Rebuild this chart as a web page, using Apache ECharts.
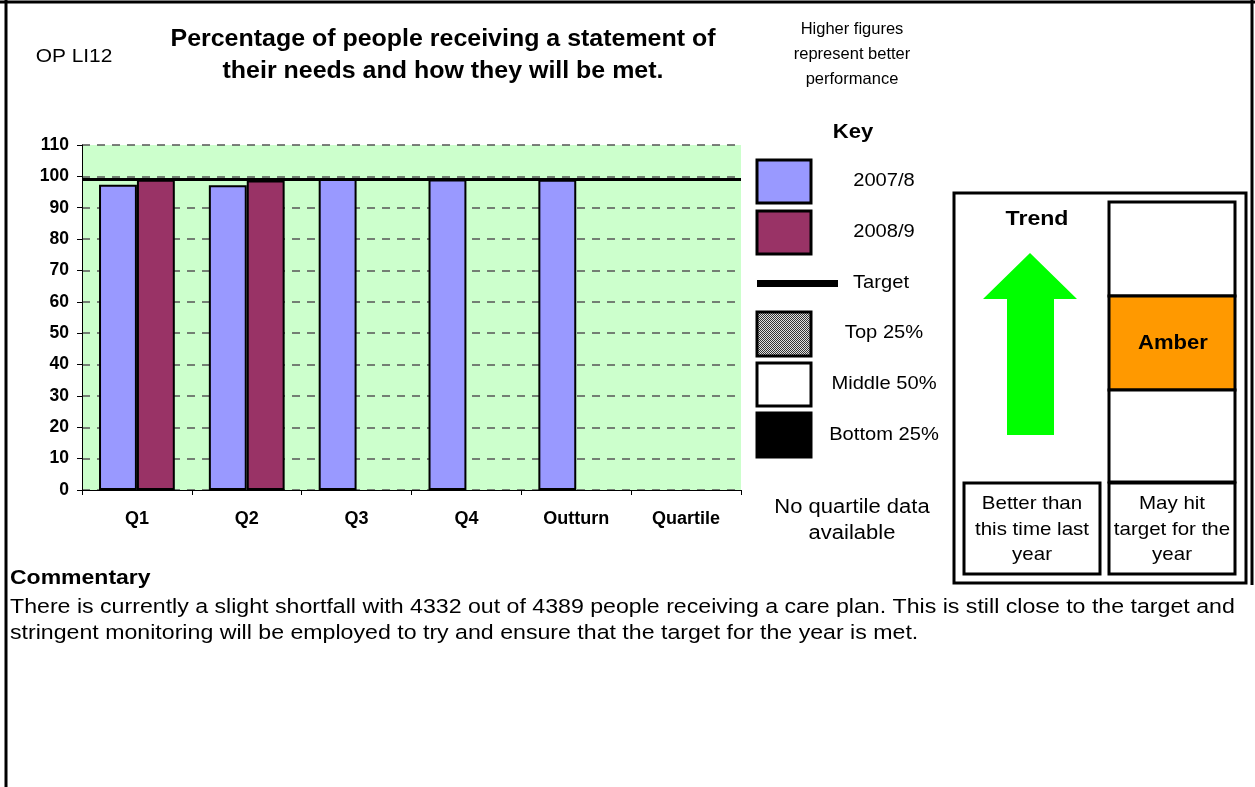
<!DOCTYPE html>
<html>
<head>
<meta charset="utf-8">
<script src="https://cdn.jsdelivr.net/npm/echarts@6/dist/echarts.min.js"></script>
<style>
html,body{margin:0;padding:0;background:#fff;}
#chart{width:1255px;height:787px;}
</style>
</head>
<body>
<div id="chart"></div>
<script>
// ---- data ----
const categories = ['Q1', 'Q2', 'Q3', 'Q4', 'Outturn', 'Quartile'];
const values2007 = [97.3, 97.2, 99.3, 99.0, 98.9, null];
const values2008 = [98.9, 98.7, null, null, null, null];
const targetValue = [99];
const seriesNames = ['2007/8', '2008/9'];

const codeLabel = 'OP LI12';
const titleLines = ['Percentage of people receiving a statement of', 'their needs and how they will be met.'];
const noteLines = ['Higher figures', 'represent better', 'performance'];
const keyTitle = 'Key';
const keyLabels = ['2007/8', '2008/9', 'Target', 'Top 25%', 'Middle 50%', 'Bottom 25%'];
const quartileNote = ['No quartile data', 'available'];
const trendTitle = 'Trend';
const statusLabel = 'Amber';
const trendLines = ['Better than', 'this time last', 'year'];
const statusLines = ['May hit', 'target for the', 'year'];
const commentaryTitle = 'Commentary';
const commentaryLines = [
  'There is currently a slight shortfall with 4332 out of 4389 people receiving a care plan. This is still close to the target and',
  'stringent monitoring will be employed to try and ensure that the target for the year is met.'
];

// ---- styles ----
const FONT = '"Liberation Sans", Arial, sans-serif';
const C2007 = '#9999FF';
const C2008 = '#993366';

function txt(x, y, text, size, bold, align, sx) {
  return {
    type: 'text', x: x, y: y, silent: true, scaleX: sx || 1,
    style: {
      text: text, x: 0, y: 0,
      fontFamily: FONT, fontSize: size, fontWeight: bold ? 'bold' : 'normal',
      fill: '#000', align: align || 'center', verticalAlign: 'middle'
    }
  };
}
function rect(x, y, w, h, fill, lw) {
  return {
    type: 'rect', silent: true,
    shape: { x: x, y: y, width: w, height: h },
    style: { fill: fill, stroke: '#000', lineWidth: lw == null ? 3 : lw }
  };
}
function line(x1, y1, x2, y2, lw) {
  return {
    type: 'line', silent: true,
    shape: { x1: x1, y1: y1, x2: x2, y2: y2 },
    style: { stroke: '#000', lineWidth: lw }
  };
}

// checker pattern for "Top 25%"
const pc = document.createElement('canvas');
pc.width = 2; pc.height = 2;
const pctx = pc.getContext('2d');
pctx.fillStyle = '#e0e0e0'; pctx.fillRect(0, 0, 2, 2);
pctx.fillStyle = '#333'; pctx.fillRect(0, 0, 1, 1); pctx.fillRect(1, 1, 1, 1);

const graphics = [];
// outer frame
graphics.push(line(6, 0, 6, 787, 3));
graphics.push(line(0, 2, 1255, 2, 3));
graphics.push(line(1252, 0, 1252, 585, 3));

// header texts
graphics.push(txt(74, 57, codeLabel, 19, false, 'center', 1.1));
graphics.push(txt(443, 40, titleLines[0], 23, true, 'center', 1.085));
graphics.push(txt(443, 72, titleLines[1], 23, true, 'center', 1.085));
noteLines.forEach((t, i) => graphics.push(txt(852, 29 + i * 25, t, 16.5, false)));

// key
graphics.push(txt(853, 132, keyTitle, 21, true, 'center', 1.05));
graphics.push(rect(757, 160, 54, 43, C2007));
graphics.push(rect(757, 211, 54, 43, C2008));
graphics.push({ type: 'rect', silent: true, shape: { x: 757, y: 280, width: 81, height: 7 }, style: { fill: '#000' } });
graphics.push(rect(757, 312, 54, 44, { image: pc, repeat: 'repeat' }));
graphics.push(rect(757, 363, 54, 43, '#fff'));
graphics.push(rect(757, 413, 54, 44, '#000'));
const keyY = [181, 232, 283, 333, 384, 435];
keyLabels.forEach((t, i) => graphics.push(txt(i === 2 ? 881 : 884, keyY[i], t, 19, false, 'center', 1.06)));
graphics.push(txt(852, 507, quartileNote[0], 20, false, 'center', 1.1));
graphics.push(txt(852, 533, quartileNote[1], 20, false, 'center', 1.1));

// trend box
graphics.push(rect(954, 193, 292, 390, '#fff'));
graphics.push(rect(1109, 202, 126, 94, '#fff'));
graphics.push(rect(1109, 296, 126, 94, '#FF9900'));
graphics.push(rect(1109, 390, 126, 92, '#fff'));
graphics.push(rect(1109, 483, 126, 91, '#fff'));
graphics.push(rect(964, 483, 136, 91, '#fff'));
graphics.push({
  type: 'polygon', silent: true,
  shape: { points: [[1030, 253], [1077, 299], [1054, 299], [1054, 435], [1007, 435], [1007, 299], [983, 299]] },
  style: { fill: '#00FF00' }
});
graphics.push(txt(1037, 219, trendTitle, 21, true, 'center', 1.1));
graphics.push(txt(1173, 343, statusLabel, 21, true, 'center', 1.05));
trendLines.forEach((t, i) => graphics.push(txt(1032, 504 + i * 25.5, t, 19, false, 'center', 1.08)));
statusLines.forEach((t, i) => graphics.push(txt(1172, 504 + i * 25.5, t, 19, false, 'center', 1.08)));

// commentary
graphics.push(txt(10, 578, commentaryTitle, 20, true, 'left', 1.15));
commentaryLines.forEach((t, i) => graphics.push(txt(10, 607 + i * 26, t, 20.5, false, 'left', 1.129)));

const chart = echarts.init(document.getElementById('chart'), null, { renderer: 'canvas' });
chart.setOption({
  animation: false,
  backgroundColor: '#fff',
  grid: {
    left: 82, right: 514, top: 145, bottom: 297,
    show: true, backgroundColor: '#CCFFCC', borderWidth: 0
  },
  xAxis: {
    type: 'category', data: categories,
    axisLine: { lineStyle: { color: '#000', width: 1 } },
    axisTick: { show: true, length: 5, lineStyle: { color: '#000' } },
    axisLabel: { fontFamily: FONT, fontWeight: 'bold', fontSize: 18, color: '#000', margin: 20 },
    splitLine: { show: false }
  },
  yAxis: {
    type: 'value', min: 0, max: 110, interval: 10,
    axisLine: { show: true, lineStyle: { color: '#000', width: 1 } },
    axisTick: { show: true, length: 5, lineStyle: { color: '#000' } },
    axisLabel: { fontFamily: FONT, fontWeight: 'bold', fontSize: 17.5, color: '#000', margin: 13 },
    splitLine: { show: true, lineStyle: { color: '#555', type: [8, 7], width: 1.5 } }
  },
  series: [
    {
      name: seriesNames[0], type: 'bar', data: values2007,
      barGap: '0%', barCategoryGap: '31%',
      itemStyle: { color: C2007, borderColor: '#000', borderWidth: 2 },
      markLine: {
        silent: true, symbol: 'none', label: { show: false },
        lineStyle: { color: '#000', width: 3, type: 'solid' },
        data: [{ yAxis: targetValue[0] }]
      },
      z: 2
    },
    {
      name: seriesNames[1], type: 'bar', data: values2008,
      itemStyle: { color: C2008, borderColor: '#000', borderWidth: 2 },
      z: 2
    }
  ],
  graphic: graphics
});
</script>
</body>
</html>
